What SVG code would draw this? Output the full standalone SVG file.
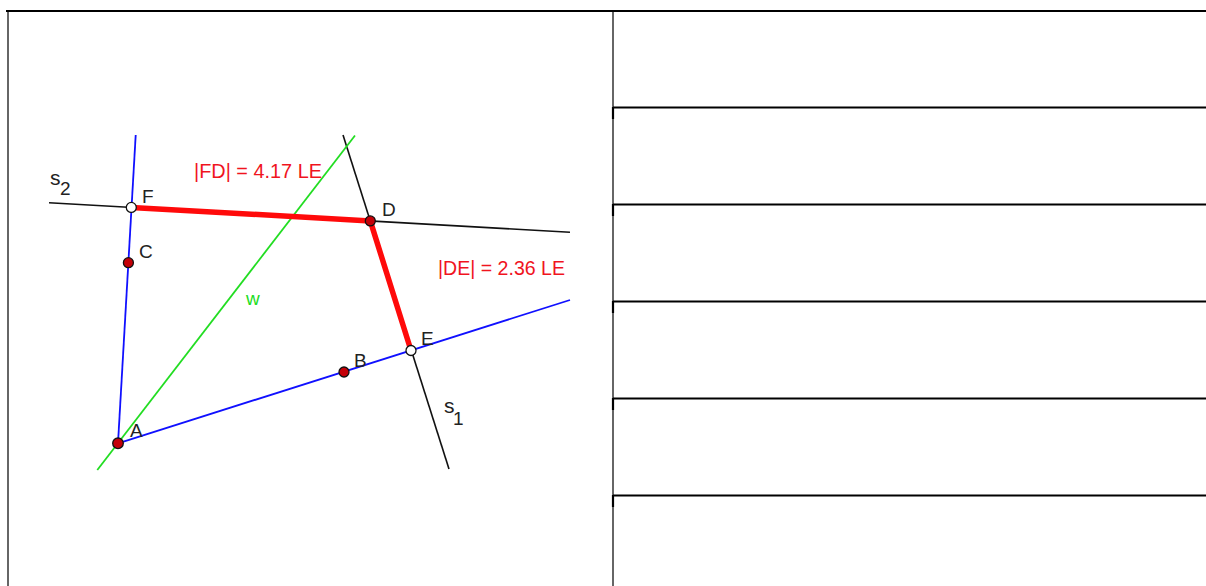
<svg xmlns="http://www.w3.org/2000/svg" width="1206" height="586" viewBox="0 0 1206 586">
<style>
.tb{stroke:#000;stroke-width:2.2;fill:none}
.tg{stroke:#666;stroke-width:2;fill:none}
.blk{stroke:#111;stroke-width:1.6;fill:none}
.blu{stroke:#1010ff;stroke-width:1.8;fill:none}
.grn{stroke:#22dd22;stroke-width:1.8;fill:none}
.red{stroke:#ff0a0a;stroke-width:5.5;fill:none;stroke-linecap:round}
.pt{fill:#c40008;stroke:#111;stroke-width:1.3}
.op{fill:#fff;stroke:#111;stroke-width:1.3}
.lbl{font-family:"Liberation Sans",Arial,sans-serif;font-size:19px;fill:#222}
.sv{font-family:"Liberation Sans",Arial,sans-serif;font-size:21px;fill:#222}
.meas{font-family:"Liberation Sans",Arial,sans-serif;font-size:20px;fill:#f0141e}
.wl{font-family:"Liberation Sans",Arial,sans-serif;font-size:19px;fill:#22dd22}
</style>
<rect width="1206" height="586" fill="#fff"/>
<g id="table">
<line class="tg" x1="8" y1="11" x2="8" y2="586"/>
<line class="tg" x1="613" y1="11" x2="613" y2="586"/>
<line class="tb" x1="6" y1="11" x2="1206" y2="11"/>
<line class="tb" x1="613" y1="107.5" x2="1206" y2="107.5"/>
<line class="tb" x1="613" y1="204.5" x2="1206" y2="204.5"/>
<line class="tb" x1="613" y1="301.5" x2="1206" y2="301.5"/>
<line class="tb" x1="613" y1="398.5" x2="1206" y2="398.5"/>
<line class="tb" x1="613" y1="495.5" x2="1206" y2="495.5"/>
<path class="tb" d="M613 107 v12 M613 204 v12 M613 301 v12 M613 398 v12 M613 495 v12"/>
</g>
<g id="connectors">
<line id="s2" class="blk" x1="49" y1="202.7" x2="570" y2="232.3"/>
<line id="s1" class="blk" x1="343" y1="135" x2="449" y2="469"/>
<line id="w" class="grn" x1="355" y1="135.5" x2="97.3" y2="470"/>
<line id="AF" class="blu" x1="135.7" y1="135" x2="118" y2="443.3"/>
<line id="AB" class="blu" x1="118" y1="443.3" x2="570" y2="300"/>
<line id="FD" class="red" x1="131.3" y1="207.4" x2="370.3" y2="220.9"/>
<line id="DE" class="red" x1="370.3" y1="220.9" x2="411" y2="350.5"/>
</g>
<g id="label-s2"><text class="sv" x="50" y="185">s</text><text class="lbl" x="60" y="195">2</text></g>
<g id="label-s1"><text class="sv" x="444" y="413">s</text><text class="lbl" x="453" y="425">1</text></g>
<g id="label-w"><text class="wl" x="246" y="305">w</text></g>
<g id="label-FD"><text class="meas" x="194" y="178" textLength="128" lengthAdjust="spacingAndGlyphs">|FD| = 4.17 LE</text></g>
<g id="label-DE"><text class="meas" x="438" y="275" textLength="127" lengthAdjust="spacingAndGlyphs">|DE| = 2.36 LE</text></g>
<g id="node-F"><circle class="op" cx="131.3" cy="207.4" r="5"/><text class="lbl" x="142" y="203">F</text></g>
<g id="node-C"><circle class="pt" cx="128.4" cy="262.7" r="5"/><text class="lbl" x="139" y="258">C</text></g>
<g id="node-D"><circle class="pt" cx="370.3" cy="220.9" r="5"/><text class="lbl" x="382" y="216">D</text></g>
<g id="node-E"><circle class="op" cx="411" cy="350.5" r="5"/><text class="lbl" x="421" y="345">E</text></g>
<g id="node-B"><circle class="pt" cx="344" cy="372" r="5"/><text class="lbl" x="354" y="367">B</text></g>
<g id="node-A"><circle class="pt" cx="118" cy="443.3" r="5.3"/><text class="lbl" x="130" y="437">A</text></g>
</svg>
